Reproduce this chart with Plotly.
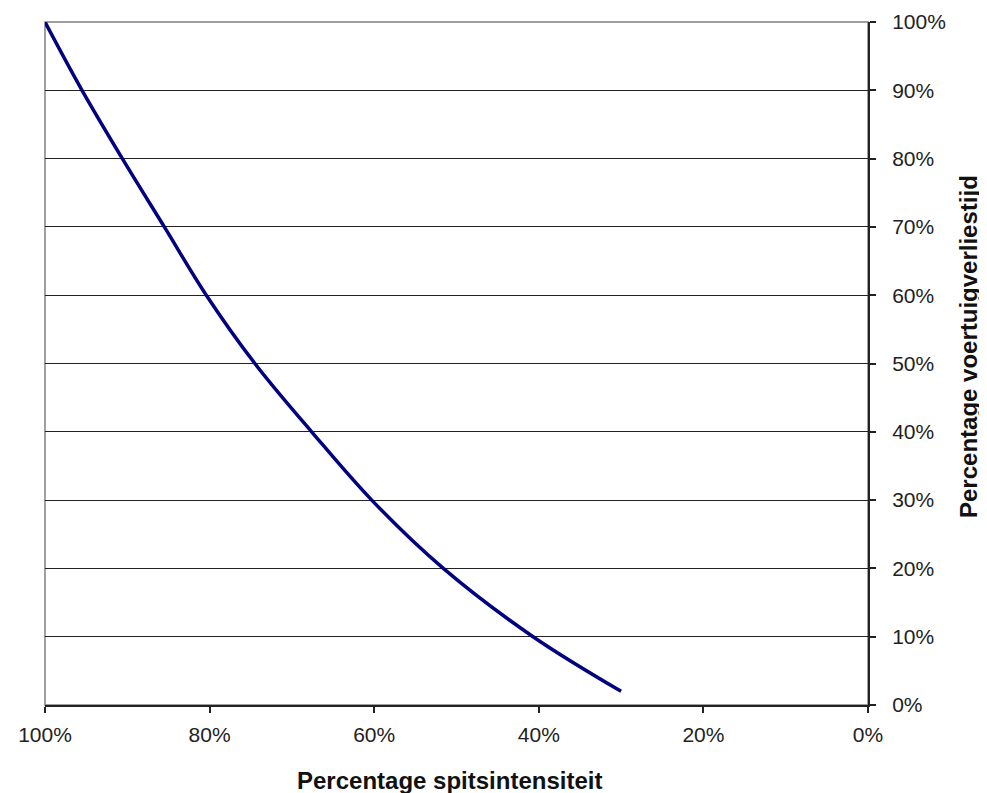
import plotly.graph_objects as go

# Data
spitsintensiteit = [100, 95.5, 90.6, 85.5, 80.4, 74.5, 67.6, 60.3, 51.6, 40.7, 30.0]
voertuigverliestijd = [100, 90, 80, 70, 60, 50, 40, 30, 20, 10, 2]
x_ticks = [100, 80, 60, 40, 20, 0]
x_tick_labels = ["100%", "80%", "60%", "40%", "20%", "0%"]
y_ticks = [0, 10, 20, 30, 40, 50, 60, 70, 80, 90, 100]
y_tick_labels = ["0%", "10%", "20%", "30%", "40%", "50%", "60%", "70%", "80%", "90%", "100%"]
x_title = "Percentage spitsintensiteit"
y_title = "Percentage voertuigverliestijd"

fig = go.Figure()
fig.add_trace(go.Scatter(
    x=spitsintensiteit, y=voertuigverliestijd, mode="lines",
    line=dict(color="#000080", width=3.5, shape="spline", smoothing=1.0),
    showlegend=False, hoverinfo="skip"))

fig.add_shape(type="rect", xref="paper", yref="paper", x0=0, y0=0, x1=1, y1=1,
              line=dict(color="#808080", width=1.5), layer="below")

tickfont = dict(family="Liberation Sans, Arial, sans-serif", size=21, color="#222222")
titlefont = dict(family="Liberation Sans, Arial, sans-serif", size=24, color="#111111")

fig.add_annotation(text="<b>" + x_title + "</b>", xref="paper", yref="paper",
                   x=0.491, y=-0.088, xanchor="center", yanchor="top",
                   showarrow=False, font=titlefont)
fig.add_annotation(text="<b>" + y_title + "</b>", xref="paper", yref="paper",
                   x=1.1215, y=0.5256, xanchor="center", yanchor="middle", textangle=-90,
                   showarrow=False, font=titlefont)

fig.update_layout(
    width=987, height=793,
    margin=dict(l=37, r=127, t=14, b=96),
    paper_bgcolor="white", plot_bgcolor="white",
    xaxis=dict(
        range=[100, 0], tickmode="array", tickvals=x_ticks, ticktext=x_tick_labels,
        ticks="outside", ticklen=6, tickcolor="#222222", tickwidth=1.5,
        showline=True, linecolor="#222222", linewidth=2, automargin=False,
        showgrid=False, zeroline=False, tickfont=tickfont, ticklabelstandoff=4,
    ),
    yaxis=dict(
        range=[0, 100], side="right", tickmode="array", tickvals=y_ticks, ticktext=y_tick_labels,
        ticks="outside", ticklen=6, tickcolor="#222222", tickwidth=1.5,
        showline=True, linecolor="#222222", linewidth=2, automargin=False,
        showgrid=True, gridcolor="#222222", gridwidth=1.2, zeroline=False,
        tickfont=tickfont, ticklabelstandoff=12,
    ),
)

fig.write_html("out.html")
